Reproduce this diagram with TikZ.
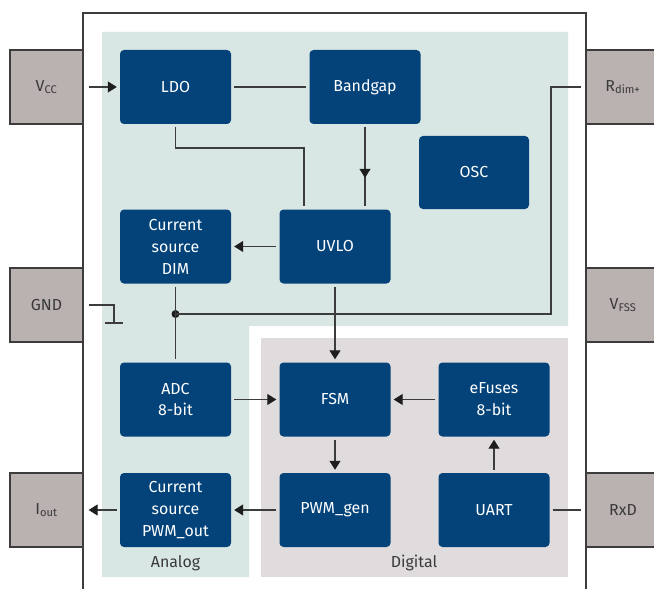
\documentclass[tikz,border=0pt]{standalone}
\usepackage{fontspec}
\setmainfont{Fira Sans}
\usetikzlibrary{arrows.meta,decorations.markings}
\definecolor{blockblue}{HTML}{03437A}
\definecolor{analogbg}{HTML}{D9E7E4}
\definecolor{digitalbg}{HTML}{E0DBDC}
\definecolor{pinfill}{HTML}{BAB1B1}
\definecolor{linecol}{HTML}{3C3C3C}
\definecolor{tipcol}{HTML}{1E1E1E}
\definecolor{txtcol}{HTML}{3A3A3A}
\begin{document}
\begin{tikzpicture}[x=1bp,y=-1bp,
  blk/.style={rectangle, rounded corners=4bp, fill=blockblue, text=white, minimum width=111bp, minimum height=74bp, inner sep=0pt, align=center, font=\fontsize{16}{22}\selectfont},
  pin/.style={rectangle, draw=linecol, line width=1.3bp, fill=pinfill, minimum width=73bp, minimum height=74bp, inner sep=0pt, text=txtcol, font=\fontsize{16}{20}\selectfont},
  conn/.style={draw=linecol, line width=1.2bp},
  arr/.style={conn, -{Triangle[length=9bp,width=11bp,color=tipcol]}},
  midarrow/.style={decoration={markings, mark=at position 0.63 with {\arrow{Triangle[length=9bp,width=11bp,color=tipcol]}}}, postaction=decorate},
  lbl/.style={text=txtcol, font=\fontsize{16}{20}\selectfont}
]
\clip (0,0) rectangle (654,589);
\fill[white] (0,0) rectangle (654,589);
% regions
\fill[analogbg] (102,32) -- (568,32) -- (568,326) -- (249,326) -- (249,577) -- (102,577) -- cycle;
\fill[digitalbg] (261,338) rectangle (568,577);
% chip outline
\draw[linecol, line width=1.3bp] (83,595) -- (83,13) -- (586,13) -- (586,595);
% pins
\node[pin] (Vcc) at (46.5,87) {V\textsubscript{CC}};
\node[pin] (GND) at (46.5,305) {GND};
\node[pin] (Iout) at (46.5,510) {I\textsubscript{out}};
\node[pin, minimum width=74bp] (Rdim) at (623,87) {R\textsubscript{dim+}};
\node[pin, minimum width=74bp] (Vfss) at (623,305) {V\textsubscript{FSS}};
\node[pin, minimum width=74bp] (RxD) at (623,510) {RxD};
% blocks
\node[blk] (LDO) at (175.5,87) {LDO};
\node[blk] (Bandgap) at (365,87) {Bandgap};
\node[blk, minimum width=110bp, minimum height=73bp] (OSC) at (474,172.5) {OSC};
\node[blk] (CSD) at (175.5,246.5) {Current\\source\\DIM};
\node[blk] (UVLO) at (335,246.5) {UVLO};
\node[blk] (ADC) at (175.5,399.5) {ADC\\8-bit};
\node[blk] (FSM) at (335,399.5) {FSM};
\node[blk] (eFuses) at (494,399.5) {eFuses\\8-bit};
\node[blk] (CSP) at (175.5,510) {Current\\source\\PWM\_out};
\node[blk] (PWM) at (335,510) {PWM\_gen};
\node[blk] (UART) at (494,510) {UART};
% labels
\node[lbl] (analoglbl) at (175.5,563) {Analog};
\node[lbl] (digitallbl) at (414,563) {Digital};
% helper coordinates
\coordinate (k1) at (175.5,148);
\coordinate (k2) at (304,148);
\coordinate (r1) at (551,87);
\coordinate (r2) at (551,314);
\node[circle, fill=tipcol, inner sep=0pt, minimum size=8bp] (dot) at (175.5,314) {};
\coordinate (g1) at (114,305);
\coordinate (g2) at (114,323);
\coordinate (gb1) at (105,323);
\coordinate (gb2) at (123,323);
% connectors
\draw[arr, shorten <=5bp, shorten >=3bp] (Vcc.east) -- (LDO.west);
\draw[conn, shorten <=3bp, shorten >=3bp] (LDO.east) -- (Bandgap.west);
\draw[conn, shorten >=3bp] ([yshift=-3bp]LDO.south) -- (k1) -- (k2) -- (k2 |- UVLO.north);
\draw[conn, midarrow, shorten <=3bp, shorten >=3bp] (Bandgap.south) -- (Bandgap.south |- UVLO.north);
\draw[arr, shorten <=3bp, shorten >=3bp] (UVLO.west) -- (CSD.east);
\draw[conn] ([xshift=-4bp]Rdim.west) -- (r1) -- (r2) -- (dot.center);
\draw[conn, shorten <=3bp, shorten >=3bp] (CSD.south) -- (dot.center) -- (ADC.north);
\draw[conn] ([xshift=5bp]GND.east) -- (g1) -- (g2);
\draw[conn] (gb1) -- (gb2);
\draw[arr, shorten <=3bp, shorten >=3bp] (UVLO.south) -- (FSM.north);
\draw[arr, shorten <=3bp, shorten >=3bp] (ADC.east) -- (FSM.west);
\draw[arr, shorten <=3bp, shorten >=3bp] (eFuses.west) -- (FSM.east);
\draw[arr, shorten <=3bp, shorten >=3bp] (FSM.south) -- (PWM.north);
\draw[arr, shorten <=3bp, shorten >=3bp] (UART.north) -- (eFuses.south);
\draw[arr, shorten <=3bp, shorten >=3bp] (PWM.west) -- (CSP.east);
\draw[arr, shorten <=3bp, shorten >=5bp] (CSP.west) -- (Iout.east);
\draw[conn, shorten <=3bp, shorten >=4bp] (UART.east) -- (RxD.west);
\end{tikzpicture}
\end{document}
